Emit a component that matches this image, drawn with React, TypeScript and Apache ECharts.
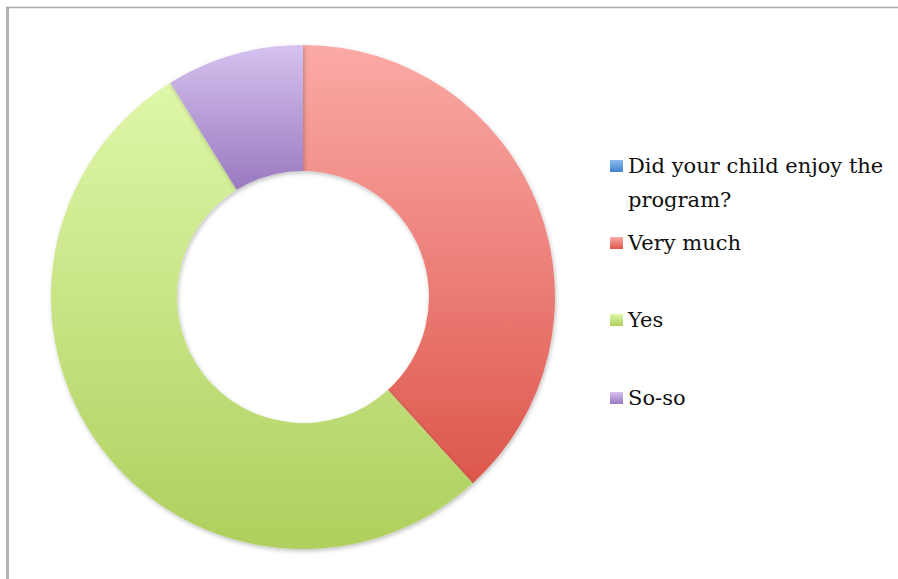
import React, { useEffect, useRef } from "react";
import * as echarts from "echarts";

const categories = ["Did your child enjoy the program?", "Very much", "Yes", "So-so"];
const values = [0, 13, 18, 3];
const topColors = ["#8DBCEB", "#FBAAA6", "#DFF7A9", "#D5C2EF"];
const bottomColors = ["#3E82CF", "#DD574C", "#AECF5D", "#9A79BF"];
const legendCenters = [166, 243, 320, 398];

function grad(i: number) {
  return new echarts.graphic.LinearGradient(0, 0, 0, 1, [
    { offset: 0, color: topColors[i] },
    { offset: 1, color: bottomColors[i] },
  ]);
}

export default function App() {
  const ref = useRef<HTMLDivElement>(null);
  useEffect(() => {
    document.body.style.margin = "0";
    const chart = echarts.init(ref.current!, null, { renderer: "svg" });
    const fontFamily = "DejaVu Serif";
    const lh = 34;
    const legends = categories.map((name, i) => ({
      orient: "vertical",
      left: 610,
      top: legendCenters[i] - (i === 0 ? lh * 1.5 : lh / 2),
      padding: 0,
      data: [name],
      itemWidth: 13,
      itemHeight: 12,
      itemGap: 0,
      selectedMode: false,
      icon: "rect",
      formatter: (n: string) => (n === categories[0] ? " \nDid your child enjoy the\nprogram?" : n),
      textStyle: {
        fontFamily,
        fontSize: 21,
        color: "#111",
        lineHeight: lh,
      },
    }));
    chart.setOption({
      animation: false,
      backgroundColor: "#fff",
      legend: legends,
      graphic: [
        { type: "line", shape: { x1: 7.5, y1: 7, x2: 7.5, y2: 579 }, style: { stroke: "#b3b3b3", lineWidth: 3 } },
        { type: "line", shape: { x1: 6, y1: 7.5, x2: 898, y2: 7.5 }, style: { stroke: "#aaaaaa", lineWidth: 1.5 } },
      ],
      series: [
        {
          type: "pie",
          center: [303, 297],
          radius: [126, 252],
          startAngle: 90,
          clockwise: true,
          label: { show: false },
          labelLine: { show: false },
          emphasis: { disabled: true },
          data: categories.map((name, i) => ({
            name,
            value: values[i],
            itemStyle: {
              color: grad(i),
              borderWidth: 0,
              shadowBlur: 4,
              shadowColor: "rgba(0,0,0,0.25)",
              shadowOffsetX: 1,
              shadowOffsetY: 2,
            },
          })),
        },
      ],
    });
    return () => chart.dispose();
  }, []);
  return <div ref={ref} style={{ position: "fixed", left: 0, top: 0, width: 898, height: 579 }} />;
}
